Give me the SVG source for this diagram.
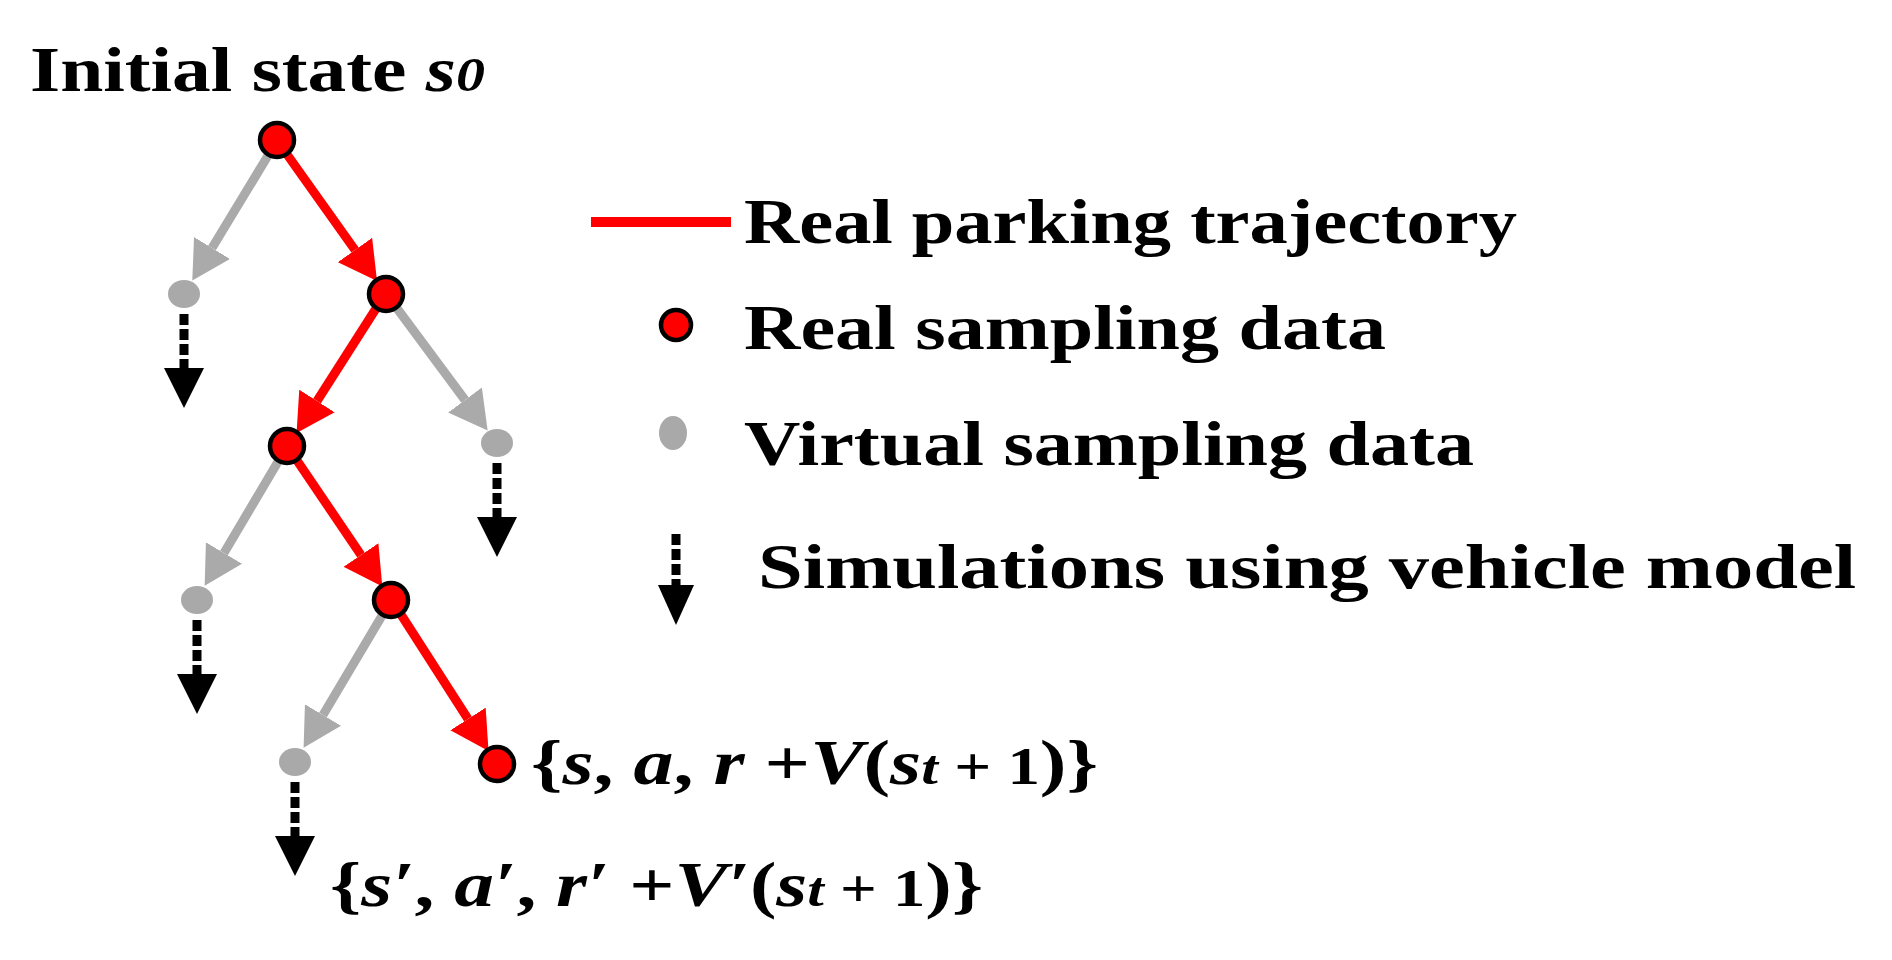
<svg xmlns="http://www.w3.org/2000/svg" width="1892" height="960" viewBox="0 0 1892 960">
<style>
.t{font-family:"Liberation Serif",serif;font-weight:bold;font-size:64px;fill:#000}
.i{font-style:italic}
.real{fill:#ff0000;stroke:#000;stroke-width:4.5}
.virt{fill:#a9a9a9}
.er{stroke:#ff0000;stroke-width:9;fill:none}
.eg{stroke:#aaaaaa;stroke-width:9;fill:none}
.stem{stroke:#000;stroke-width:9;stroke-dasharray:11 4}
</style>
<defs>
<marker id="ar" markerUnits="userSpaceOnUse" markerWidth="38" markerHeight="42" viewBox="0 0 38 42" refX="0" refY="21" orient="auto"><path d="M0,0 L38,21 L0,42 z" fill="#ff0000"/></marker>
<marker id="ag" markerUnits="userSpaceOnUse" markerWidth="38" markerHeight="42" viewBox="0 0 38 42" refX="0" refY="21" orient="auto"><path d="M0,0 L38,21 L0,42 z" fill="#aaaaaa"/></marker>
</defs>
<rect width="1892" height="960" fill="#fff"/>
<text class="t" x="30" y="91" font-size="66" textLength="455" lengthAdjust="spacingAndGlyphs">Initial state <tspan class="i">s</tspan><tspan class="i" font-size="48">0</tspan></text>
<g id="connectors">
<line class="er" x1="286" y1="153" x2="355" y2="250" marker-end="url(#ar)"/>
<line class="eg" x1="269" y1="154" x2="212" y2="248" marker-end="url(#ag)"/>
<line class="er" x1="377" y1="307" x2="317" y2="401" marker-end="url(#ar)"/>
<line class="eg" x1="396" y1="307" x2="465" y2="400" marker-end="url(#ag)"/>
<line class="eg" x1="279" y1="460" x2="224" y2="553" marker-end="url(#ag)"/>
<line class="er" x1="296" y1="459" x2="361" y2="555" marker-end="url(#ar)"/>
<line class="eg" x1="383" y1="614" x2="323" y2="715" marker-end="url(#ag)"/>
<line class="er" x1="400" y1="613" x2="468" y2="719" marker-end="url(#ar)"/>
<g id="sims">
<line class="stem" x1="184" y1="314" x2="184" y2="368"/><path d="M164,368 L204,368 L184,408 z"/>
<line class="stem" x1="497" y1="463" x2="497" y2="517"/><path d="M477,517 L517,517 L497,557 z"/>
<line class="stem" x1="197" y1="620" x2="197" y2="674"/><path d="M177,674 L217,674 L197,714 z"/>
<line class="stem" x1="295" y1="782" x2="295" y2="836"/><path d="M275,836 L315,836 L295,876 z"/>
</g>
</g>
<g id="n0"><circle class="real" cx="277" cy="140" r="17"/></g>
<g id="n1"><circle class="real" cx="386" cy="294" r="17"/></g>
<g id="n2"><ellipse class="virt" cx="184" cy="294" rx="16" ry="14"/></g>
<g id="n3"><circle class="real" cx="287" cy="446" r="17"/></g>
<g id="n4"><ellipse class="virt" cx="497" cy="443" rx="16" ry="14"/></g>
<g id="n5"><ellipse class="virt" cx="197" cy="600" rx="16" ry="14"/></g>
<g id="n6"><circle class="real" cx="391" cy="600" r="17"/></g>
<g id="n7"><ellipse class="virt" cx="295" cy="762" rx="16" ry="14"/></g>
<g id="n8"><circle class="real" cx="497" cy="764" r="17"/></g>
<text class="t" x="531" y="784" textLength="567" lengthAdjust="spacingAndGlyphs">{<tspan class="i">s</tspan>, <tspan class="i">a</tspan>, <tspan class="i">r</tspan> +<tspan class="i">V</tspan>(<tspan class="i">s</tspan><tspan class="i" font-size="48">t</tspan><tspan font-size="52"> + 1</tspan>)}</text>
<text class="t" x="330" y="906" textLength="653" lengthAdjust="spacingAndGlyphs">{<tspan class="i">s′</tspan>, <tspan class="i">a′</tspan>, <tspan class="i">r′</tspan> +<tspan class="i">V′</tspan>(<tspan class="i">s</tspan><tspan class="i" font-size="48">t</tspan><tspan font-size="52"> + 1</tspan>)}</text>
<g id="legend">
<line x1="591" y1="222" x2="731" y2="222" stroke="#ff0000" stroke-width="10"/>
<text class="t" x="744" y="243" textLength="773" lengthAdjust="spacingAndGlyphs">Real parking trajectory</text>
<circle class="real" cx="676" cy="325" r="15"/>
<text class="t" x="744" y="349" textLength="642" lengthAdjust="spacingAndGlyphs">Real sampling data</text>
<ellipse class="virt" cx="673" cy="433" rx="14" ry="17"/>
<text class="t" x="744" y="465" textLength="730" lengthAdjust="spacingAndGlyphs">Virtual sampling data</text>
<line class="stem" x1="676" y1="534" x2="676" y2="585"/><path d="M658,585 L694,585 L676,625 z"/>
<text class="t" x="758" y="588" textLength="1098" lengthAdjust="spacingAndGlyphs">Simulations using vehicle model</text>
</g>
</svg>
